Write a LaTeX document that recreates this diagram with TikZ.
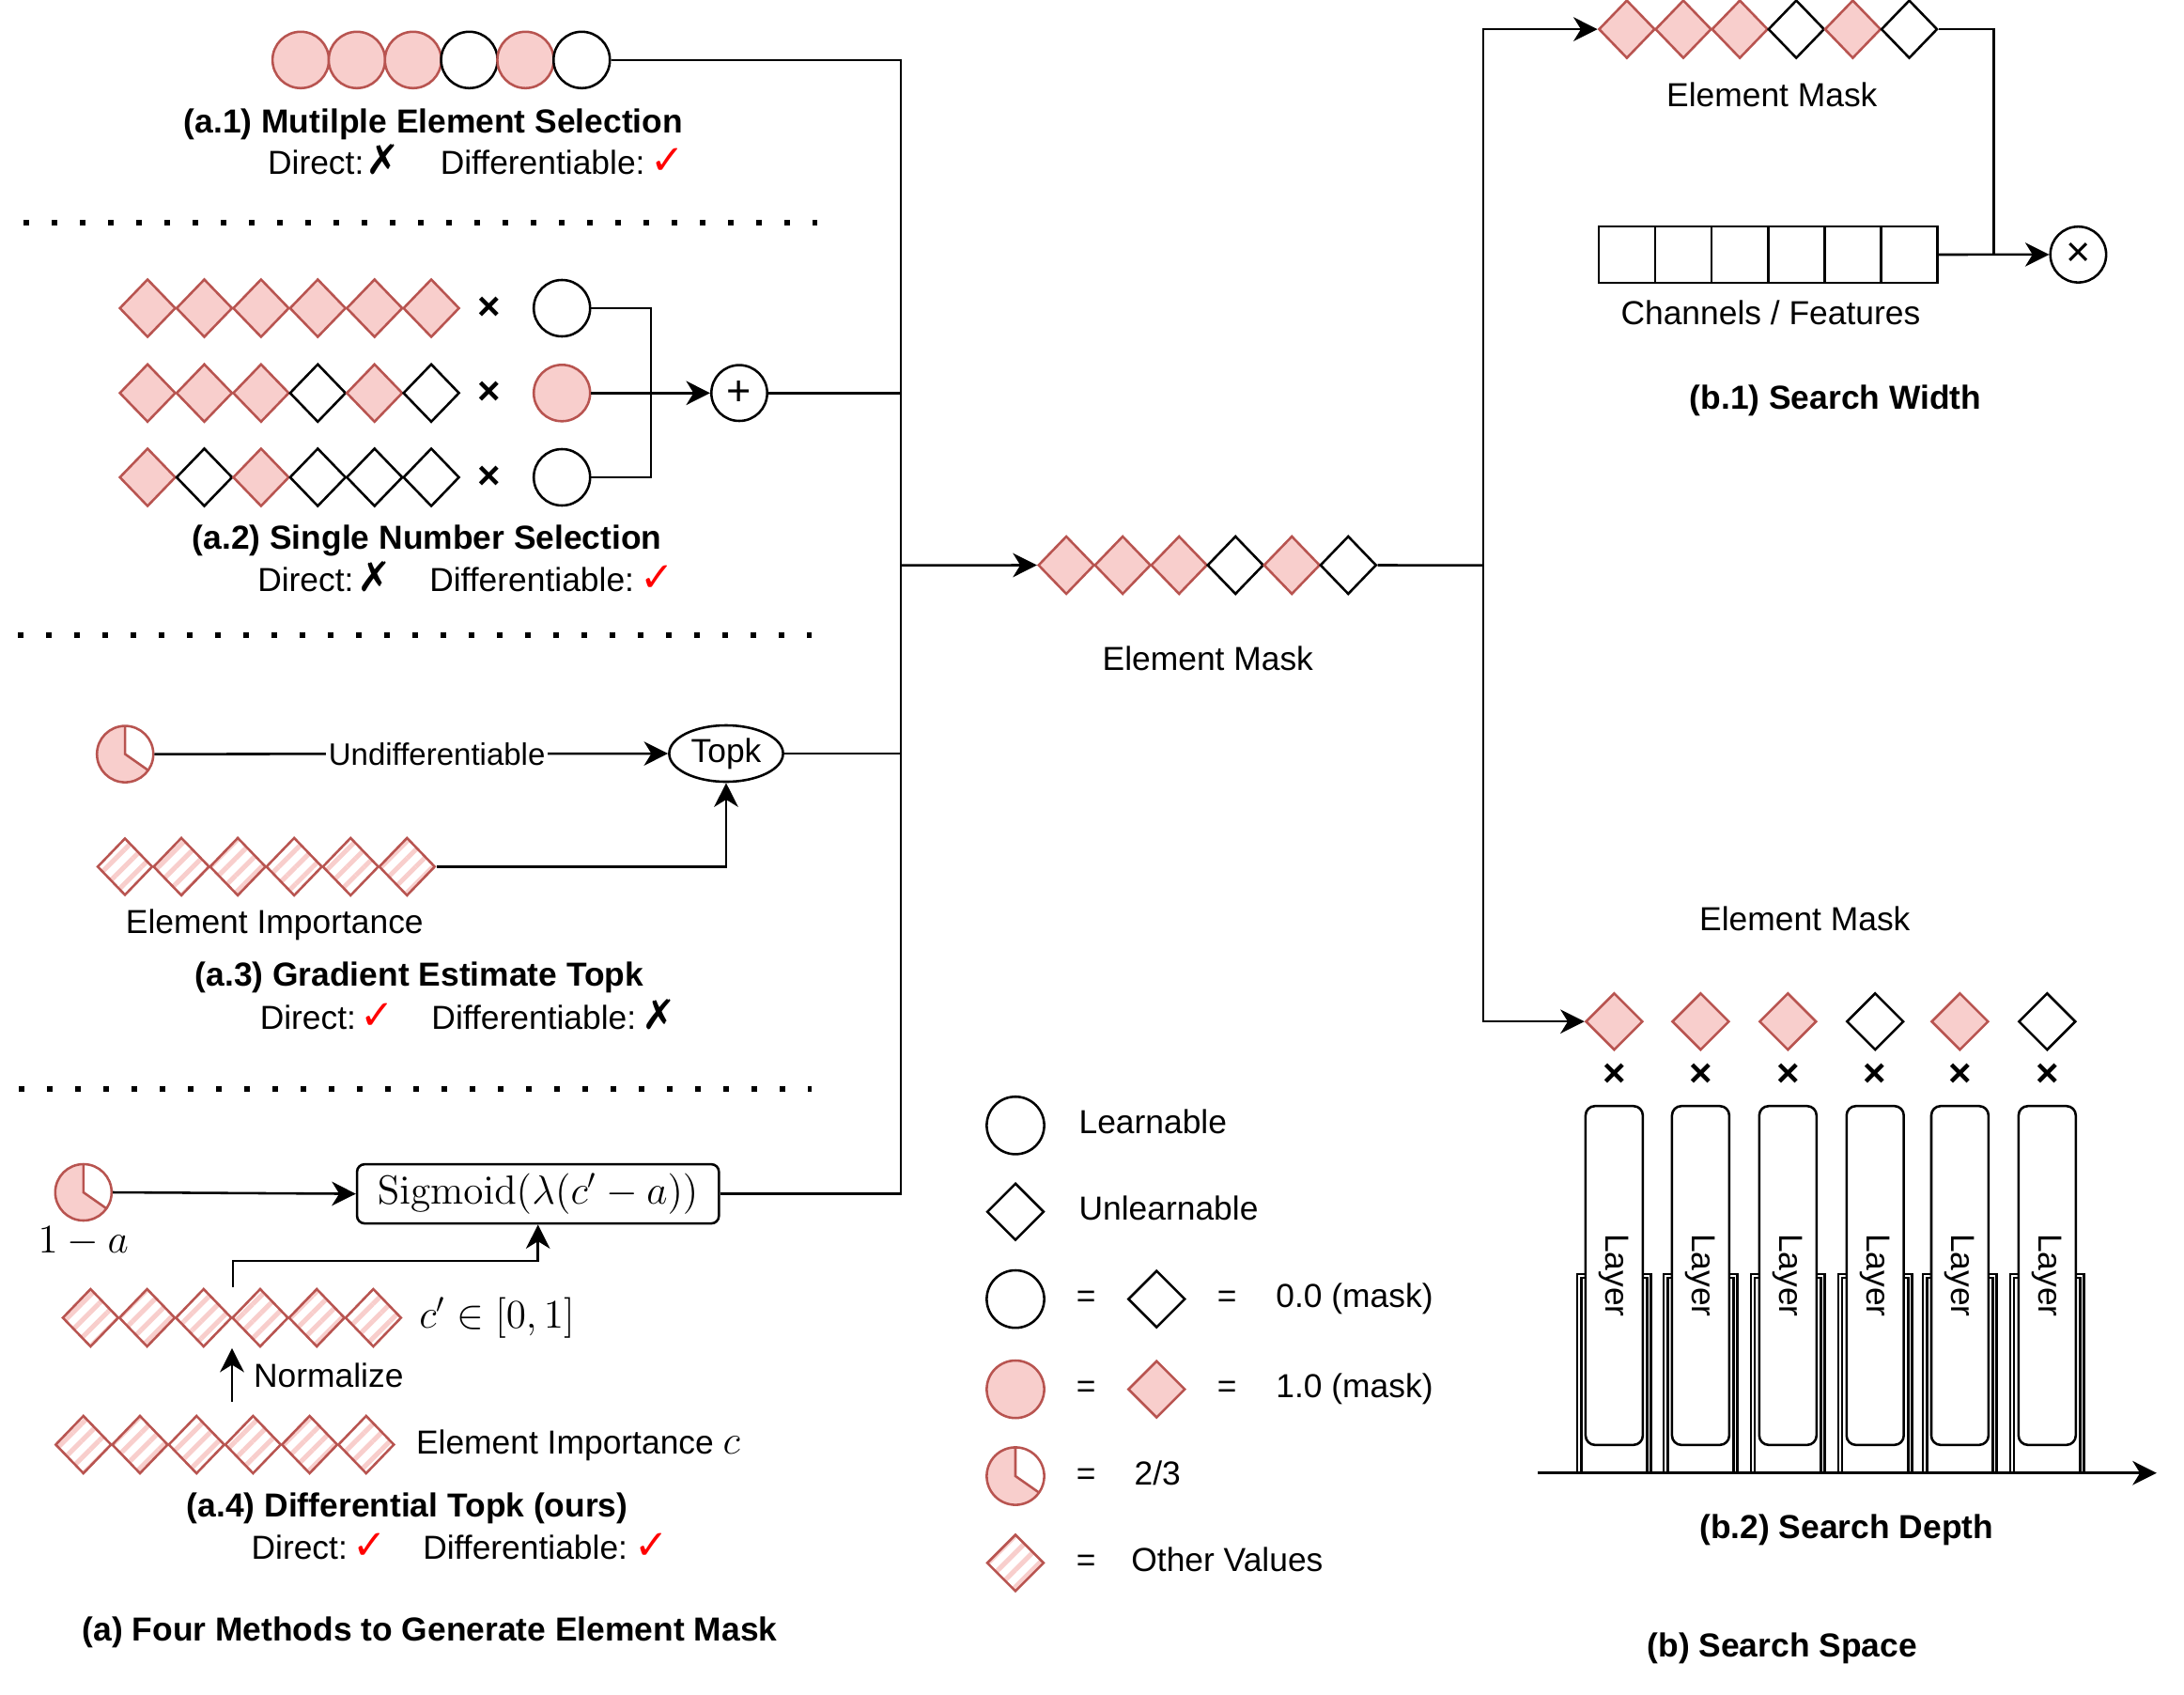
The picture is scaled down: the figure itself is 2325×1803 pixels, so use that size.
\documentclass[tikz,border=0pt]{standalone}
\usepackage[no-math]{fontspec}
\setmainfont{Liberation Sans}
\newfontfamily\symfont{DejaVu Sans}
\usetikzlibrary{positioning,shapes.geometric,arrows.meta,patterns.meta}
\definecolor{pinkfill}{HTML}{F8CECC}
\definecolor{redline}{HTML}{B85450}
\newcommand{\okmark}{{\symfont\fontsize{14.5}{16}\selectfont\textcolor{red}{✓}}}
\newcommand{\nomark}{{\symfont\fontsize{14.5}{16}\selectfont ✗}}

\begin{document}
\begin{tikzpicture}[
  x=0.3333pt, y=-0.3333pt, line width=0.85pt,
  font=\fontsize{11.8}{14}\selectfont,
  >={Stealth[length=8.5pt,width=8.5pt,inset=2.6pt]},
  lbl/.style={inner sep=0pt, text height=0.75em, text depth=0.15em},
  ttl/.style={lbl, font=\fontsize{11.8}{14}\selectfont\bfseries},
  mathlbl/.style={inner sep=0pt, font=\fontsize{13.8}{16}\selectfont},
  timeslbl/.style={inner sep=0pt, font=\fontsize{14}{16}\selectfont\bfseries},
  fullC/.style={circle, draw=redline, fill=pinkfill, minimum size=20pt, inner sep=0pt},
  emptyC/.style={circle, draw, fill=white, minimum size=20pt, inner sep=0pt},
  fullD/.style={diamond, draw=redline, fill=pinkfill, minimum width=20pt, minimum height=20.7pt, inner sep=0pt},
  emptyD/.style={diamond, draw, fill=white, minimum width=20pt, minimum height=20.7pt, inner sep=0pt},
  hatchD/.style={diamond, draw=redline, pattern={Lines[angle=45,distance=4.3pt,line width=1.7pt]}, pattern color=pinkfill, minimum width=20pt, minimum height=20.7pt, inner sep=0pt},
  pieC/.style={circle, draw=redline, minimum size=20pt, inner sep=0pt,
    path picture={
      \fill[pinkfill] (path picture bounding box.center) -- ++(90:10pt) arc[start angle=90, end angle=325, radius=10pt] -- cycle;
      \draw[redline] (path picture bounding box.center) ++(90:10pt) -- (path picture bounding box.center) -- ++(325:10pt);
    }},
  opC/.style={circle, draw, minimum size=19.8pt, inner sep=0pt, font=\fontsize{15}{16}\selectfont},
  chcell/.style={rectangle, draw, minimum size=20pt, inner sep=0pt},
  layerbox/.style={draw, fill=white, rounded corners=3.3pt, minimum width=120.2pt, minimum height=20.3pt, inner sep=0pt, rotate=-90},
  slot/.style={double, double distance=0.5pt},
  dotsep/.style={line width=2pt, dash pattern=on 2pt off 8pt}
]
\useasboundingbox (0,0) rectangle (2325,1803);

% (a.1) multiple element selection
\foreach \s [count=\i] in {fullC,fullC,fullC,emptyC,fullC,emptyC}
  \node[\s] (sel\i) at ({290.2+59.83*(\i-0.5)},63.8) {};
\node[ttl] (ta1) at (461.4,132.6) {(a.1) Mutilple Element Selection};
\node[lbl, anchor=west] (da1) at (283.8,176.3) {Direct:};
\node[lbl] (xa1) at (408.2,176.3) {\nomark};
\node[lbl, anchor=west] (fa1) at (467.5,176.3) {Differentiable:};
\node[lbl] (ya1) at (711,176.3) {\okmark};
\draw[dotsep] (25,236.6) -- (870,236.6);

% (a.2) single number selection
\foreach \s [count=\i] in {fullD,fullD,fullD,fullD,fullD,fullD}
  \node[\s] (ra\i) at ({126.9+60.4*(\i-0.5)},328) {};
\foreach \s [count=\i] in {fullD,fullD,fullD,emptyD,fullD,emptyD}
  \node[\s] (rb\i) at ({126.9+60.4*(\i-0.5)},418.3) {};
\foreach \s [count=\i] in {fullD,emptyD,fullD,emptyD,emptyD,emptyD}
  \node[\s] (rc\i) at ({126.9+60.4*(\i-0.5)},508) {};
\foreach \y/\s [count=\i] in {328/emptyC,418.3/fullC,508/emptyC} {
  \node[timeslbl] (mul\i) at (521,\y) {×};
  \node[\s] (num\i) at (598.2,\y) {};
}
\node[opC] (plus) at (787,418.3) {+};
\coordinate (brk) at (693,418.3);
\draw (num1.east) -| (brk) |- (num3.east);
\draw[->] (num2.east) -- (plus.west);
\node[ttl] (ta2) at (454.6,575.9) {(a.2) Single Number Selection};
\node[lbl, anchor=west] (da2) at (273,620.5) {Direct:};
\node[lbl] (xa2) at (398.6,620.5) {\nomark};
\node[lbl, anchor=west] (fa2) at (456,620.5) {Differentiable:};
\node[lbl] (ya2) at (699.6,620.5) {\okmark};
\draw[dotsep] (19,676.3) -- (864,676.3);

% (a.3) gradient estimate topk
\node[pieC] (frac3) at (133.2,802.6) {};
\node[ellipse, draw, minimum width=40.4pt, minimum height=20pt, inner sep=0pt] (topk) at (773,802) {Topk};
\foreach \i in {1,...,6}
  \node[hatchD] (imp\i) at ({103+60.05*(\i-0.5)},922.4) {};
\draw[->] (frac3.east) -- node[pos=0.55, fill=white, inner sep=1pt, font=\fontsize{11}{13}\selectfont] (undiff) {Undifferentiable} (topk.west);
\draw[->] (imp6.east) -| (topk.south);
\node[lbl] (implbl3) at (292.3,984.2) {Element Importance};
\node[ttl] (ta3) at (446.4,1040.3) {(a.3) Gradient Estimate Topk};
\node[lbl, anchor=west] (da3) at (275.5,1086.2) {Direct:};
\node[lbl] (ya3) at (402,1086.2) {\okmark};
\node[lbl, anchor=west] (fa3) at (458.2,1086.2) {Differentiable:};
\node[lbl] (xa3) at (702,1086.2) {\nomark};
\draw[dotsep] (20,1158.7) -- (864,1158.7);

% (a.4) differential topk
\node[pieC] (frac4) at (88.8,1269) {};
\node[mathlbl] (oma) at (88.8,1321) {$1-a$};
\node[draw, rounded corners=2.7pt, minimum width=128.4pt, minimum height=21pt, inner sep=0pt, font=\fontsize{13.8}{16}\selectfont] (sig) at (572.7,1270.6) {$\mathrm{Sigmoid}(\lambda(c'-a))$};
\foreach \i in {1,...,6}
  \node[hatchD] (nrm\i) at ({66.3+60.2*(\i-0.5)},1402.5) {};
\foreach \i in {1,...,6}
  \node[hatchD] (raw\i) at ({58.7+60.2*(\i-0.5)},1537.5) {};
\node[mathlbl, anchor=west] (crange) at (445,1402.5) {$c'\in[0,1]$};
\coordinate (normtail) at (247,1492);
\draw[->] (normtail) -- (normtail |- nrm3.south);
\node[lbl, anchor=west] (normlbl) at (268.9,1467.3) {Normalize};
\draw[->] (frac4.east) -- (sig.west);
\draw[->] (nrm3.east |- nrm3.north) -- ++(0,-28) -| (sig.south);
\node[lbl, anchor=west] (implbl4) at (441.8,1538.7) {Element Importance {\fontsize{13.8}{16}\selectfont$c$}};
\node[ttl] (ta4) at (433.7,1605) {(a.4) Differential Topk (ours)};
\node[lbl, anchor=west] (da4) at (266.3,1650) {Direct:};
\node[lbl] (ya4) at (394,1650) {\okmark};
\node[lbl, anchor=west] (fa4) at (449,1650) {Differentiable:};
\node[lbl] (yb4) at (693.9,1650) {\okmark};
\node[ttl] (ta) at (457.6,1737.7) {(a) Four Methods to Generate Element Mask};

% element mask in the middle
\foreach \s [count=\i] in {fullD,fullD,fullD,emptyD,fullD,emptyD}
  \node[\s] (em\i) at ({1105.1+60.03*(\i-0.5)},601.5) {};
\node[lbl] (emlbl) at (1285.8,704) {Element Mask};
\coordinate (bus) at (959,601.6);
\draw (sel6.east) -| (bus);
\draw (sig.east) -| (bus);
\draw (plus.east) -- (plus.east -| bus);
\draw (topk.east) -- (topk.east -| bus);
\draw[->] (bus) -- (em1.west);
\coordinate (fork) at (1579,601.6);
\draw (em6.east) -- (fork);

% (b.1) search width
\foreach \s [count=\i] in {fullD,fullD,fullD,emptyD,fullD,emptyD}
  \node[\s] (wm\i) at ({1701.8+60.13*(\i-0.5)},31.1) {};
\foreach \i in {1,...,6}
  \node[chcell] (ch\i) at ({1701.8+60.13*(\i-0.5)},271) {};
\node[opC] (times) at (2212.4,270.9) {×};
\coordinate (wj) at (2122.4,271);
\draw[->] (fork) |- (wm1.west);
\draw (wm6.east) -| (wj);
\draw[->] (ch6.east) -- (times.west);
\node[lbl] (wmlbl) at (1886.3,104.8) {Element Mask};
\node[lbl] (chlbl) at (1884.9,336.1) {Channels / Features};
\node[ttl] (tb1) at (1954,426.1) {(b.1) Search Width};

% (b.2) search depth
\foreach \x/\s [count=\i] in {1718.4/fullD,1810.4/fullD,1903.3/fullD,1996.2/emptyD,2086.4/fullD,2179.3/emptyD} {
  \draw[slot] ({\x-37.2},1567.7) |- ({\x+37.2},1358) -- ({\x+37.2},1567.7);
  \node[\s, minimum width=20.3pt, minimum height=20.3pt] (dm\i) at (\x,1087.2) {};
  \node[timeslbl] (dx\i) at (\x,1144) {×};
  \node[layerbox] (ly\i) at (\x,1357.5) {Layer};
}
\coordinate (axs) at (1637,1567.7);
\coordinate (axe) at (2295.8,1567.7);
\draw[->] (axs) -- (axe);
\draw[->] (fork) |- (dm1.west);
\node[lbl] (dmlbl) at (1921.3,981.1) {Element Mask};
\node[ttl] (tb2) at (1965.8,1628) {(b.2) Search Depth};
\node[ttl] (tb) at (1897.2,1754.7) {(b) Search Space};

% legend
\node[emptyC, minimum size=20.4pt] (lg1) at (1081,1197.8) {};
\node[lbl, anchor=west] (lt1) at (1147.3,1197.8) {Learnable};
\node[emptyD, minimum width=20.3pt, minimum height=20.3pt] (lg2) at (1081,1289.7) {};
\node[lbl, anchor=west] (lt2) at (1147.3,1289.7) {Unlearnable};
\node[emptyC, minimum size=20.4pt] (lg3) at (1081,1382.6) {};
\node[lbl] (le3a) at (1156.3,1382.6) {=};
\node[emptyD, minimum width=20.3pt, minimum height=20.3pt] (lh3) at (1231.3,1382.6) {};
\node[lbl] (le3b) at (1306.3,1382.6) {=};
\node[lbl, anchor=west] (lt3) at (1357.1,1382.6) {0.0 (mask)};
\node[fullC, minimum size=20.4pt] (lg4) at (1081,1478.6) {};
\node[lbl] (le4a) at (1156.3,1478.6) {=};
\node[fullD, minimum width=20.3pt, minimum height=20.3pt] (lh4) at (1231.3,1478.6) {};
\node[lbl] (le4b) at (1306.3,1478.6) {=};
\node[lbl, anchor=west] (lt4) at (1357.1,1478.6) {1.0 (mask)};
\node[pieC, minimum size=20.4pt] (lg5) at (1081,1571) {};
\node[lbl] (le5) at (1156.3,1571) {=};
\node[lbl, anchor=west] (lt5) at (1206.3,1571) {2/3};
\node[hatchD, minimum width=20.3pt, minimum height=20.3pt] (lg6) at (1081,1663.4) {};
\node[lbl] (le6) at (1156.3,1663.4) {=};
\node[lbl, anchor=west] (lt6) at (1203.1,1663.4) {Other Values};
\end{tikzpicture}
\end{document}
